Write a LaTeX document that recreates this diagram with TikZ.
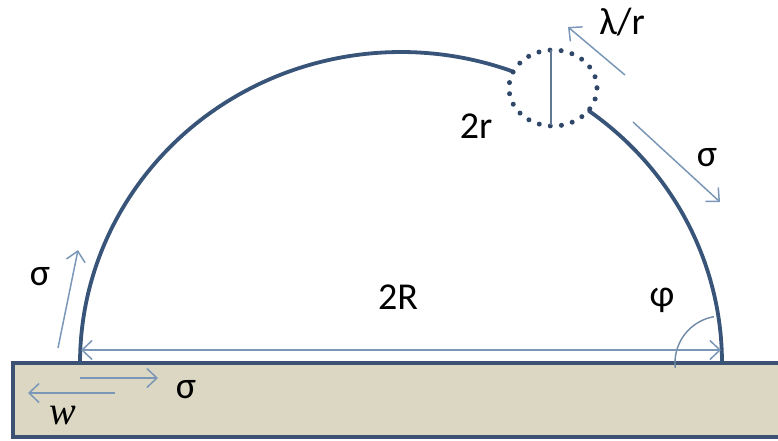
\documentclass[tikz,border=0pt]{standalone}
\usepackage{fontspec}
\setmainfont{Carlito}
\newfontfamily\wfont{Liberation Serif}
\usetikzlibrary{arrows.meta}
\definecolor{domeblue}{HTML}{385479}
\definecolor{arrowblue}{HTML}{7B97B7}
\definecolor{sandfill}{HTML}{DCD7C3}
\definecolor{sandedge}{HTML}{3D5272}
\tikzset{
  dome/.style={draw=domeblue, line width=3.8pt},
  force/.style={draw=arrowblue, line width=1.5pt, -{Straight Barb[length=10pt,width=19pt,line width=1.5pt]}},
  dimline/.style={draw=arrowblue, line width=1.5pt, {Straight Barb[length=10pt,width=19pt,line width=1.5pt]}-{Straight Barb[length=10pt,width=19pt,line width=1.5pt]}},
  lbl/.style={font=\fontsize{38}{40}\selectfont, inner sep=0pt},
}
\begin{document}
\begin{tikzpicture}[x=1pt,y=-1pt]
\useasboundingbox (0,0) rectangle (778,440);
% substrate
\draw[fill=sandfill, draw=sandedge, line width=3.4pt] (13,363) rectangle (800,437);
% dome
\draw[dome, line cap=round] plot[domain=180:69.6, samples=120] ({401+321*cos(\x)},{363-311*sin(\x)});
\draw[dome, line cap=round] plot[domain=54.2:0, samples=100] ({401+321*cos(\x)},{363-311*sin(\x)});
% hole
\draw[draw=domeblue!85!black, line width=5pt, line cap=round, dash pattern=on 0pt off 11.2pt] (553,88) ellipse [x radius=44, y radius=38];
\coordinate (dtop) at (551,50);
\coordinate (dbot) at (551,125);
\draw[draw=arrowblue!80!black, line width=1.4pt] (dtop) -- (dbot);
% contact angle
\draw[draw=arrowblue!90!black, line width=1.4pt] plot[domain=186:100, samples=40] ({722+47*cos(\x)},{363-47*sin(\x)});
% force arrows
\coordinate (ls0) at (58,348);  \coordinate (ls1) at (78,250);
\coordinate (rs0) at (633,122); \coordinate (rs1) at (720,202);
\coordinate (lr0) at (625,75);  \coordinate (lr1) at (568,27);
\coordinate (sr0) at (80,378);  \coordinate (sr1) at (158,378);
\coordinate (sl0) at (115,393); \coordinate (sl1) at (28,393);
\coordinate (dL) at (81,350);   \coordinate (dR) at (721,350);
\draw[force] (ls0) -- (ls1);
\draw[force] (rs0) -- (rs1);
\draw[force] (lr0) -- (lr1);
\draw[force] (sr0) -- (sr1);
\draw[force] (sl0) -- (sl1);
\draw[dimline] (dL) -- (dR);
% labels
\node[lbl] (sigL) at (40,277) {σ};
\node[lbl] (sigR) at (707,158) {σ};
\node[lbl] (sigS) at (186,390) {σ};
\node[lbl] (lam) at (622,22) {λ/r};
\node[lbl] (tr) at (476,126) {2r};
\node[lbl] (tR) at (398,297) {2R};
\node[lbl] (phi) at (662,300) {φ};
\node[lbl, font=\wfont\itshape\fontsize{40}{42}\selectfont] (w) at (63,416) {w};
\end{tikzpicture}
\end{document}
